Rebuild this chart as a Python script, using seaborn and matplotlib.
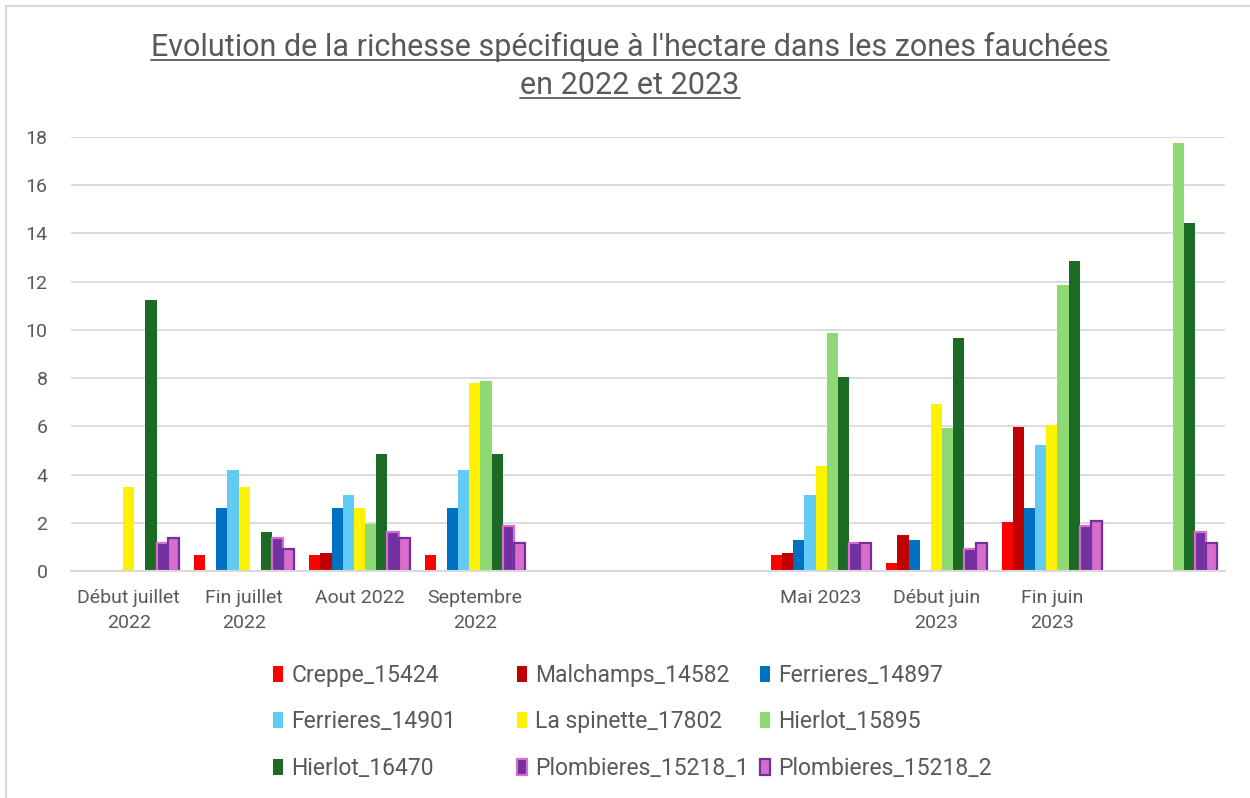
import numpy as np
import pandas as pd
import matplotlib.pyplot as plt
import matplotlib.colors as mcolors
import seaborn as sns
from matplotlib.patches import Patch, Rectangle
from matplotlib.lines import Line2D

# périodes (les blancs sont des catégories vides dans le graphique d'origine)
periodes = ["Début juillet\n2022", "Fin juillet\n2022", "Aout 2022", "Septembre\n2022",
            " ", "  ", "Mai 2023", "Début juin\n2023", "Fin juin\n2023", "   "]
tick_labels = ["Début juillet\n2022", "Fin juillet\n2022", "Aout 2022", "Septembre\n2022",
               "", "", "Mai 2023", "Début juin\n2023", "Fin juin\n2023", ""]

stations = ["Creppe_15424", "Malchamps_14582", "Ferrieres_14897", "Ferrieres_14901",
            "La spinette_17802", "Hierlot_15895", "Hierlot_16470",
            "Plombieres_15218_1", "Plombieres_15218_2"]

N = None
creppe_15424 = [N, 0.66, 0.66, 0.66, N, N, 0.66, 0.35, 2.03, N]
malchamps_14582 = [N, N, 0.75, N, N, N, 0.75, 1.51, 5.99, N]
ferrieres_14897 = [N, 2.61, 2.61, 2.61, N, N, 1.30, 1.30, 2.61, N]
ferrieres_14901 = [N, 4.18, 3.14, 4.18, N, N, 3.14, N, 5.21, N]
spinette_17802 = [3.49, 3.49, 2.61, 7.79, N, N, 4.34, 6.94, 6.07, N]
hierlot_15895 = [N, N, 1.96, 7.90, N, N, 9.89, 5.92, 11.85, 17.77]
hierlot_16470 = [11.23, 1.62, 4.85, 4.85, N, N, 8.04, 9.65, 12.86, 14.45]
plombieres_1 = [1.16, 1.38, 1.62, 1.85, N, N, 1.16, 0.93, 1.85, 1.62]
plombieres_2 = [1.38, 0.93, 1.38, 1.16, N, N, 1.16, 1.16, 2.07, 1.16]

series = [creppe_15424, malchamps_14582, ferrieres_14897, ferrieres_14901,
          spinette_17802, hierlot_15895, hierlot_16470, plombieres_1, plombieres_2]

couleurs = ["#FF0000", "#C00000", "#0070C0", "#61CBF3", "#FFF200",
            "#8ED973", "#1B6B24", "#7030A0", "#D86ECC"]
bords = {"#7030A0": "#D86ECC", "#D86ECC": "#7030A0"}

rows = []
for st, vals in zip(stations, series):
    for p, v in zip(periodes, vals):
        if v is not None:
            rows.append({"periode": p, "station": st, "valeur": v})
df = pd.DataFrame(rows)

sns.set_theme(style="white")
plt.rcParams["font.family"] = ["Roboto", "DejaVu Sans"]
gris = "#595959"

fig = plt.figure(figsize=(12.5, 7.98), dpi=100)
ax = fig.add_axes([71 / 1250, 1 - 571 / 798, (1225 - 71) / 1250, (571 - 137) / 798])

sns.barplot(data=df, x="periode", y="valeur", hue="station", order=periodes,
            hue_order=stations, palette=couleurs, width=0.87, saturation=1,
            errorbar=None, legend=False, linewidth=0, ax=ax)

# bordures des barres Plombieres
for patch in ax.patches:
    fc = mcolors.to_hex(patch.get_facecolor()).upper()
    if fc in bords:
        patch.set_edgecolor(bords[fc])
        patch.set_linewidth(1.6)

ax.set_ylim(0, 18)
ax.set_yticks(np.arange(0, 19, 2))
ax.set_xlim(-0.5, len(periodes) - 0.5)
ax.set_xticks(range(len(periodes)))
ax.set_xticklabels(tick_labels, linespacing=1.5)
ax.set_xlabel("")
ax.set_ylabel("")
ax.yaxis.grid(True, color="#D9D9D9", linewidth=1.3)
ax.set_axisbelow(True)
for s in ["top", "right", "left"]:
    ax.spines[s].set_visible(False)
ax.spines["bottom"].set_color("#D9D9D9")
ax.spines["bottom"].set_linewidth(1.5)
ax.tick_params(axis="y", length=0, pad=17, labelsize=14, labelcolor=gris)
ax.tick_params(axis="x", length=0, pad=13, labelsize=14, labelcolor=gris)

# titre souligné
titre = ["Evolution de la richesse spécifique à l'hectare dans les zones fauchées",
         "en 2022 et 2023"]
bases = [56, 94]
textes = []
for t, b in zip(titre, bases):
    textes.append(fig.text(630 / 1250, 1 - b / 798, t, ha="center", va="baseline",
                           fontsize=22, color=gris))

# légende en 3 colonnes
cols_x = [273, 517, 760]
for c in range(3):
    idx = [3 * r + c for r in range(3)]
    handles = [Patch(facecolor=couleurs[i], edgecolor=bords.get(couleurs[i], couleurs[i]),
                     linewidth=1.6 if couleurs[i] in bords else 0) for i in idx]
    labels = [stations[i] for i in idx]
    fig.legend(handles, labels, loc="upper left",
               bbox_to_anchor=(cols_x[c] / 1250, 1 - 664 / 798), frameon=False,
               fontsize=16.5, labelcolor=gris, handlelength=0.45, handleheight=0.7,
               handletextpad=0.35, labelspacing=1.02, borderpad=0, borderaxespad=0)

# cadre du graphique
fig.patches.append(Rectangle((6 / 1250, -0.05), 1.2, 1 - 6 / 798 + 0.05,
                             transform=fig.transFigure, fill=False,
                             edgecolor="#D9D9D9", linewidth=1.5))

fig.canvas.draw()
r = fig.canvas.get_renderer()
for t, b in zip(textes, bases):
    bb = t.get_window_extent(renderer=r)
    y = 1 - (b + 3.5) / 798
    fig.add_artist(Line2D([bb.x0 / 1250, bb.x1 / 1250], [y, y],
                          transform=fig.transFigure, color=gris, linewidth=1.3))

fig.savefig("out.png", dpi=100)
